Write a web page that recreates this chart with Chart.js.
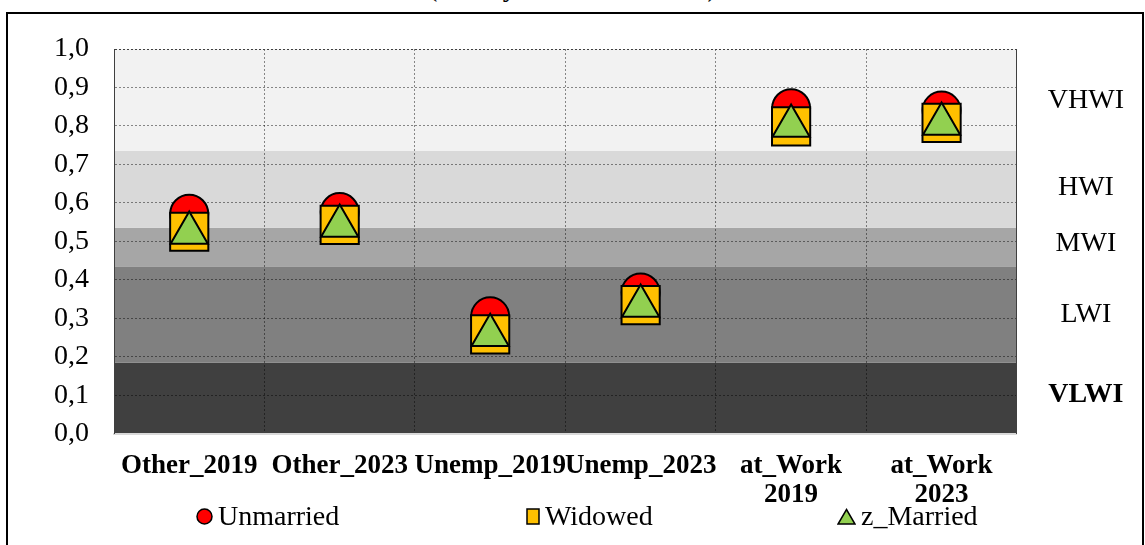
<!DOCTYPE html>
<html>
<head>
<meta charset="utf-8">
<script src="https://cdn.jsdelivr.net/npm/chart.js@4.4.1/dist/chart.umd.min.js"></script>
<style>
  body { margin: 0; background: #fff; }
  #wrap { position: relative; width: 1145px; height: 545px; overflow: hidden; font-family: "Liberation Serif", "Times New Roman", serif; }
  #frame { position: absolute; left: 6px; top: 12px; width: 1134px; height: 600px; border: 2px solid #000; }
  #title { position: absolute; left: 0; top: -27px; width: 1145px; text-align: center; font-size: 28px; line-height: 28px; }
  canvas { position: absolute; left: 0; top: 0; }
  .leg { position: absolute; top: 502px; height: 28px; font-size: 28px; line-height: 28px; display: flex; align-items: center; white-space: nowrap; }
  .leg svg { margin-right: 5px; }
</style>
</head>
<body>
<div id="wrap">
  <div id="frame"></div>
  <div id="title">(Family and Work Status)</div>
  <canvas id="chart" width="1145" height="545"></canvas>
  <div id="legend"></div>
</div>
<script>
const categories = ['Other_2019', 'Other_2023', 'Unemp_2019', 'Unemp_2023', ['at_Work', '2019'], ['at_Work', '2023']]
const unmarried = [0.572, 0.576, 0.305, 0.367, 0.846, 0.840]
const widowed = [0.525, 0.543, 0.258, 0.334, 0.799, 0.808]
const married = [0.522, 0.540, 0.256, 0.332, 0.800, 0.805]

const seriesNames = ['Unmarried', 'Widowed', 'z_Married']
const seriesColors = ['#ff0000', '#ffc000', '#92d050']

const yTickLabels = ['0,0', '0,1', '0,2', '0,3', '0,4', '0,5', '0,6', '0,7', '0,8', '0,9', '1,0']

// index bands, bottom to top
const bandNames = ['VLWI', 'LWI', 'MWI', 'HWI', 'VHWI']
const bandLow = [0, 0.185, 0.435, 0.535, 0.735]
const bandHigh = [0.185, 0.435, 0.535, 0.735, 1.0]
const bandLabelPos = [0.10, 0.31, 0.495, 0.64, 0.867]
const bandColors = ['#404040', '#808080', '#a6a6a6', '#d9d9d9', '#f2f2f2']

const serif = '"Liberation Serif", "Times New Roman", serif'
const gridColor = 'rgba(0,0,0,0.45)'

const bandPlugin = {
    id: 'bands',
    beforeDraw(chart) {
        const { ctx, chartArea } = chart
        const y = chart.scales.y
        ctx.save()
        for (let i = 0; i < bandNames.length; i++) {
            const top = y.getPixelForValue(bandHigh[i])
            const bottom = y.getPixelForValue(bandLow[i])
            ctx.fillStyle = bandColors[i]
            ctx.fillRect(chartArea.left, top, chartArea.right - chartArea.left, bottom - top)
        }
        ctx.restore()
    }
}

function pointSet(label, data, color, style, radius, order) {
    return {
        label: label,
        data: data,
        showLine: false,
        pointStyle: style,
        pointRadius: radius,
        pointBackgroundColor: color,
        pointBorderColor: '#000',
        pointBorderWidth: 2,
        order: order
    }
}

new Chart(document.getElementById('chart'), {
    type: 'line',
    data: {
        labels: categories,
        datasets: [
            pointSet(seriesNames[0], unmarried, seriesColors[0], 'circle', 19, 3),
            pointSet(seriesNames[1], widowed, seriesColors[1], 'rect', 27, 2),
            pointSet(seriesNames[2], married, seriesColors[2], 'triangle', 21.5, 1)
        ]
    },
    options: {
        responsive: false,
        animation: false,
        events: [],
        layout: { padding: { top: 49, left: 29, right: -10, bottom: 17 } },
        plugins: { legend: { display: false }, tooltip: { enabled: false } },
        scales: {
            x: {
                offset: true,
                grid: { offset: true, color: gridColor, drawTicks: false },
                border: { display: true, color: '#d9d9d9', width: 2, dash: [2, 2] },
                ticks: {
                    autoSkip: false, maxRotation: 0, minRotation: 0, padding: 18, color: '#000',
                    font: { family: serif, size: 27, weight: 'bold', lineHeight: 1.08 }
                }
            },
            y: {
                min: 0, max: 1,
                grid: {
                    drawTicks: false,
                    color: c => c.tick.value >= 0.999 ? '#404040' : (c.tick.value <= 0.001 ? 'rgba(0,0,0,0)' : gridColor)
                },
                border: { display: true, color: '#404040', width: 1, dash: [2, 2] },
                ticks: {
                    autoSkip: false, stepSize: 0.1, padding: 25, color: '#000',
                    font: { family: serif, size: 28 },
                    callback: (v, i) => yTickLabels[i]
                }
            },
            y2: {
                position: 'right', min: 0, max: 1,
                grid: { display: false, drawTicks: false },
                border: { display: true, color: '#404040', width: 1 },
                afterBuildTicks: s => { s.ticks = bandLabelPos.map(v => ({ value: v })) },
                ticks: {
                    autoSkip: false, padding: 31, crossAlign: 'center', color: '#000',
                    font: c => ({ family: serif, size: 28, weight: bandNames[c.index] === 'VLWI' ? 'bold' : 'normal' }),
                    callback: (v, i) => bandNames[i]
                }
            }
        }
    },
    plugins: [bandPlugin]
})

// legend laid out like the original (wide spacing)
const legendX = [196, 526, 837]
const markerSvg = [
    '<svg width="17" height="17"><circle cx="8.5" cy="8.5" r="7.5" fill="' + seriesColors[0] + '" stroke="#000" stroke-width="1.5"/></svg>',
    '<svg width="14" height="17"><rect x="1" y="1" width="12" height="15" fill="' + seriesColors[1] + '" stroke="#000" stroke-width="1.5"/></svg>',
    '<svg width="19" height="17"><polygon points="9.5,1.5 18,16 1,16" fill="' + seriesColors[2] + '" stroke="#000" stroke-width="1.5"/></svg>'
]
const legendDiv = document.getElementById('legend')
for (let i = 0; i < seriesNames.length; i++) {
    const item = document.createElement('div')
    item.className = 'leg'
    item.style.left = legendX[i] + 'px'
    item.innerHTML = markerSvg[i] + '<span>' + seriesNames[i] + '</span>'
    legendDiv.appendChild(item)
}
</script>
</body>
</html>
